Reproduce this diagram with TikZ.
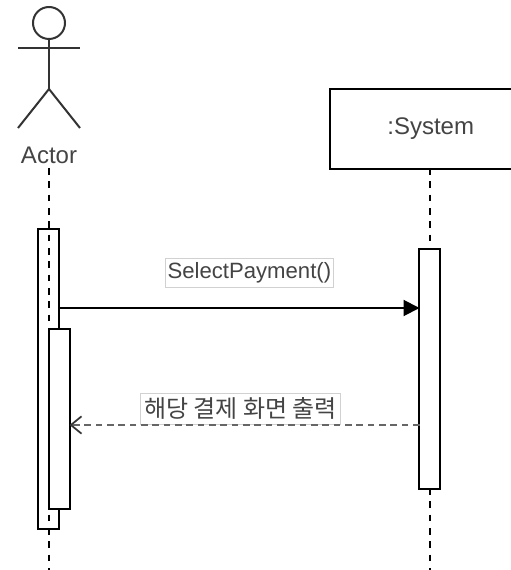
\documentclass[tikz,border=0pt]{standalone}
\usepackage{fontspec}
\setmainfont{Liberation Sans}
\newfontfamily\krfont{Noto Sans CJK KR}
\usetikzlibrary{arrows.meta}
\definecolor{ink}{HTML}{333333}
\definecolor{textgray}{HTML}{444444}
\tikzset{
  x=0.75pt,y=-0.75pt,
  line/.style={draw=black,line width=1.5pt},
  actorline/.style={draw=ink,line width=1.5pt},
  lifeline/.style={draw=black,line width=1.5pt,dash pattern=on 5pt off 5pt},
  bar/.style={draw=black,fill=white,line width=1.5pt,rectangle,inner sep=0pt,minimum width=15.4pt,anchor=north},
  msglabel/.style={draw=black!18,fill=white,line width=0.6pt,inner sep=0pt,text=textgray,anchor=north west},
  txt/.style={text=textgray,font=\fontsize{18}{20}\selectfont,inner sep=0pt}
}
\begin{document}
\begin{tikzpicture}
\useasboundingbox (0,0) rectangle (510,570);
% actor
\node[circle,draw=ink,line width=1.5pt,minimum size=24pt,inner sep=0pt] (head) at (49,23) {};
\coordinate (neck) at (49,48);
\coordinate (hip) at (49,89);
\coordinate (armL) at (18,48);
\coordinate (armR) at (80,48);
\coordinate (legL) at (18,128);
\coordinate (legR) at (80,128);
\draw[actorline] (armL) -- (armR);
\draw[actorline] (head.south) -- (hip);
\draw[actorline] (legL) -- (hip) -- (legR);
\node[txt] (actor) at (49,155) {Actor};
% activations
\node[bar,minimum height=225pt] (a1) at (48.5,228) {};
\coordinate (actorTop) at (49,168);
\coordinate (actorEnd) at (49,570);
\draw[lifeline] (actorTop) -- (actorEnd);
\node[bar,minimum height=135pt] (a2) at (59.5,328) {};
% system
\node[txt,draw=black,fill=white,line width=1.5pt,minimum width=151pt,minimum height=60pt,inner sep=0pt,anchor=north west] (sys) at (329,88) {\raisebox{-1.5pt}{:System}};
\coordinate (sysEnd) at (429.5,570);
\coordinate (sysTop) at (429.5,168);
\draw[lifeline] (sysTop) -- (sysEnd);
\node[bar,minimum height=180pt] (s1) at (429.5,248) {};
% messages
\coordinate (m1a) at (59,308);
\coordinate (m1b) at (419.5,308);
\coordinate (m2a) at (419.5,425);
\coordinate (m2b) at (69.5,425);
\node[msglabel,minimum width=126pt,minimum height=22pt,font=\fontsize{16.6}{18}\selectfont] (l1) at (165,258) {SelectPayment()};
\node[msglabel,minimum width=150pt,minimum height=23pt,font=\krfont\fontsize{18}{20}\selectfont] (l2) at (140,393) {해당 결제 화면 출력};
\draw[line,-{Triangle[length=12pt,width=12pt]}] (m1a) -- (m1b);
\draw[draw=black!60,line width=1.8pt,dash pattern=on 5pt off 3.5pt,-{Straight Barb[length=8pt,width=13pt,black!80,line width=1.3pt]}] (m2a) -- (m2b);
\end{tikzpicture}
\end{document}
